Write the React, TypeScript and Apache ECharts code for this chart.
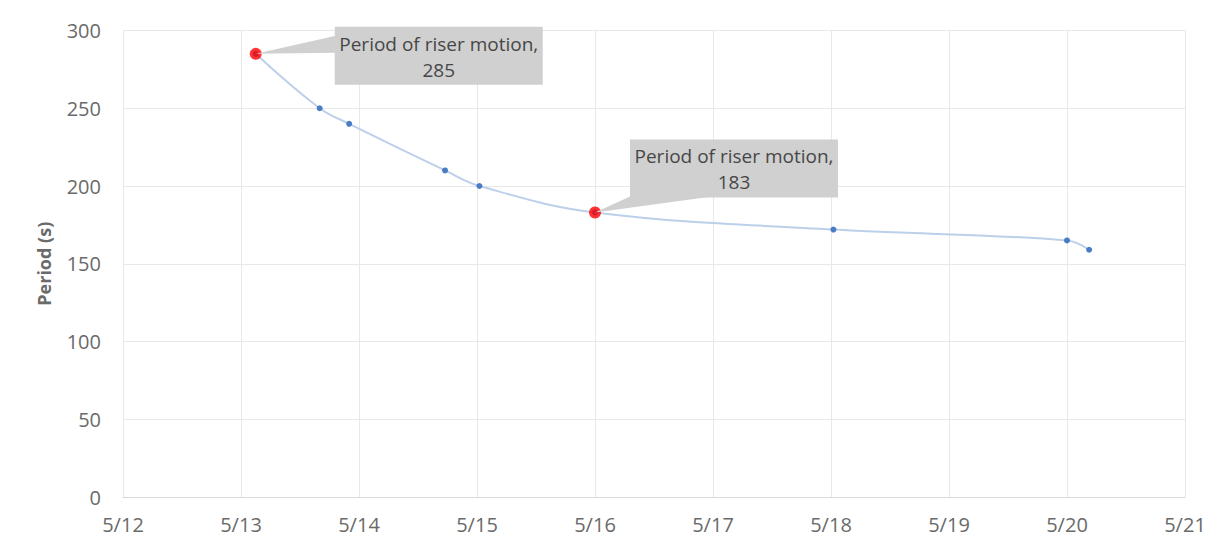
import React, { useEffect, useRef } from "react";
import * as echarts from "echarts";

const xTickLabels = ["5/12", "5/13", "5/14", "5/15", "5/16", "5/17", "5/18", "5/19", "5/20", "5/21"];
const measureTimes = [
  "05-13 03:00", "05-13 16:00", "05-13 22:00", "05-14 17:30", "05-15 00:30",
  "05-16 00:00", "05-18 00:30", "05-20 00:00", "05-20 04:30",
];
const periods = [285, 250, 240, 210, 200, 183, 172, 165, 159];
const highlighted = [0, 5];
const calloutLabel = "Period of riser motion,";

const toDay = (s: string) => {
  const [md, hm] = s.split(" ");
  const [m, d] = md.split("-").map(Number);
  const [h, mi] = hm.split(":").map(Number);
  return d - 12 + (h + mi / 60) / 24 + (m - 5) * 31;
};

export default function App() {
  const ref = useRef<HTMLDivElement>(null);
  useEffect(() => {
    const chart = echarts.init(ref.current!, null, { renderer: "svg" });
    const pts = measureTimes.map((t, i) => [toDay(t), periods[i]]);
    const font = "'Open Sans', Lato, sans-serif";
    chart.setOption({
      animation: false,
      backgroundColor: "#ffffff",
      grid: { left: 123, right: 31, top: 30.5, bottom: 46 },
      xAxis: {
        type: "value",
        min: 0,
        max: 9,
        interval: 1,
        axisLine: { show: true, lineStyle: { color: "#d9d9d9" } },
        axisTick: { show: false },
        splitLine: { show: true, lineStyle: { color: "#e8e8e8" } },
        axisLabel: {
          color: "#6a6a6a",
          fontSize: 20,
          fontFamily: font,
          margin: 17,
          formatter: (v: number) => xTickLabels[Math.round(v)] ?? "",
        },
      },
      yAxis: {
        type: "value",
        min: 0,
        max: 300,
        interval: 50,
        name: "Period (s)",
        nameLocation: "middle",
        nameGap: 70,
        nameTextStyle: { color: "#6a6a6a", fontSize: 18, fontWeight: "bold", fontFamily: font },
        axisLine: { show: false },
        axisTick: { show: false },
        splitLine: { show: true, lineStyle: { color: "#e8e8e8" } },
        axisLabel: { color: "#6a6a6a", fontSize: 20, fontFamily: font, margin: 22 },
      },
      series: [
        {
          type: "line",
          data: pts,
          smooth: 0.4,
          lineStyle: { color: "#bcd0ea", width: 2 },
          symbol: "circle",
          symbolSize: 6,
          itemStyle: { color: "#4a7cc4" },
          z: 2,
        },
        {
          type: "scatter",
          data: highlighted.map((i) => pts[i]),
          symbolSize: 12,
          itemStyle: { color: "#ff0000" },
          z: 3,
        },
      ],
    });
    const p1 = chart.convertToPixel({ gridIndex: 0 }, pts[highlighted[0]]) as number[];
    const p2 = chart.convertToPixel({ gridIndex: 0 }, pts[highlighted[1]]) as number[];
    const boxFill = "#d0d0d0";
    const txt = (x: number, y: number, s: string) => ({
      type: "text",
      x,
      y,
      style: { text: s, fill: "#474747", font: `19px ${font}`, textAlign: "center", textVerticalAlign: "middle" },
      z: 10,
    });
    const callout = (p: number[], bx: number, by: number, wedge: number[][], value: number) => [
      { type: "polygon", shape: { points: [p, ...wedge] }, style: { fill: boxFill }, z: 9 },
      { type: "rect", shape: { x: bx, y: by, width: 208, height: 58 }, style: { fill: boxFill }, z: 9 },
      txt(bx + 104, by + 17, calloutLabel),
      txt(bx + 104, by + 43, String(value)),
    ];
    chart.setOption({
      graphic: [
        ...callout(p1, p1[0] + 79, p1[1] - 27, [[p1[0] + 80, p1[1] - 18], [p1[0] + 80, p1[1] - 1]], periods[highlighted[0]]),
        ...callout(p2, p2[0] + 35, p2[1] - 73, [[p2[0] + 35, p2[1] - 16], [p2[0] + 117, p2[1] - 16]], periods[highlighted[1]]),
      ],
    });
    return () => chart.dispose();
  }, []);
  return <div ref={ref} style={{ position: "fixed", left: 0, top: 0, width: 1216, height: 543 }} />;
}
